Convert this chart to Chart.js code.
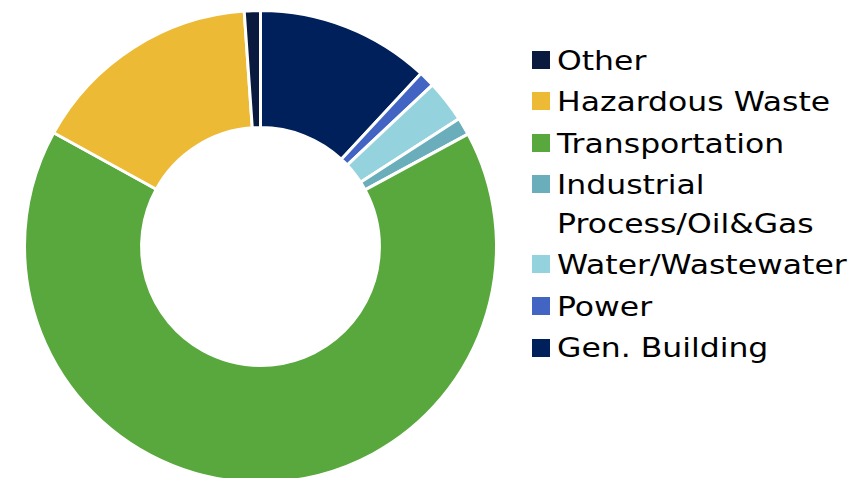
<!DOCTYPE html>
<html>
<head>
<meta charset="utf-8">
<script src="https://cdn.jsdelivr.net/npm/chart.js@4/dist/chart.umd.min.js"></script>
<style>
    html, body {
        margin: 0;
        padding: 0;
        width: 856px;
        height: 478px;
        overflow: hidden;
        background: #FFFFFF;
    }

    #chartBox {
        position: absolute;
        left: 0;
        top: 0;
        width: 521px;
        height: 493px;
    }

    #legend {
        position: absolute;
        left: 532px;
        top: 41.5px;
        font-family: "DejaVu Sans", Verdana, sans-serif;
        font-size: 26px;
        color: #000000;
    }

    .legend-item {
        display: flex;
        align-items: flex-start;
        margin-bottom: 3.3px;
    }

    .legend-box {
        width: 18px;
        height: 18px;
        margin-top: 9.2px;
        margin-right: 6.5px;
        flex: none;
    }

    .legend-text {
        line-height: 38.3px;
        white-space: nowrap;
        transform: scaleX(1.21);
        transform-origin: left center;
    }
</style>
</head>
<body>
<div id="chartBox">
    <canvas id="sectorChart" width="521" height="493"></canvas>
</div>
<div id="legend"></div>

<script>
// Sectors clockwise from 12 o'clock
const sectorLabels = [
    "Gen. Building",
    "Power",
    "Water/Wastewater",
    ["Industrial", "Process/Oil&Gas"],
    "Transportation",
    "Hazardous Waste",
    "Other"
];

const sectorShares = [11.9, 1.1, 2.9, 1.2, 65.9, 15.9, 1.1];

const sectorColors = [
    "#00205B", // Gen. Building — navy
    "#4264C2", // Power — blue
    "#94D3DE", // Water — pale aqua
    "#69AEBA", // Industrial — teal
    "#58A83E", // Transportation — green
    "#EDBA35", // Hazardous Waste — gold
    "#0A1A3F"  // Other — dark navy
];


document.addEventListener("DOMContentLoaded", function () {
    drawSectorChart();
    buildLegend();
});


function drawSectorChart() {
    const canvas = document.getElementById("sectorChart");

    new Chart(canvas, {
        type: "doughnut",

        data: {
            labels: sectorLabels,

            datasets: [
                {
                    data: sectorShares,
                    backgroundColor: sectorColors,
                    borderColor: "#FFFFFF",
                    borderWidth: 3
                }
            ]
        },

        options: {
            responsive: false,
            maintainAspectRatio: false,
            animation: false,
            events: [],
            radius: 236,
            cutout: "50.4%",
            layout: {
                padding: 0
            },

            plugins: {
                legend: {
                    display: false
                },
                tooltip: {
                    enabled: false
                }
            }
        }
    });
}


function buildLegend() {
    const legend = document.getElementById("legend");

    // legend lists the sectors bottom-up
    for (let i = sectorLabels.length - 1; i >= 0; i--) {
        const item = document.createElement("div");
        item.className = "legend-item";

        const box = document.createElement("div");
        box.className = "legend-box";
        box.style.background = sectorColors[i];

        const text = document.createElement("div");
        text.className = "legend-text";

        const lines = Array.isArray(sectorLabels[i])
            ? sectorLabels[i]
            : [sectorLabels[i]];

        lines.forEach(function (line) {
            const row = document.createElement("div");
            row.textContent = line;
            text.appendChild(row);
        });

        item.appendChild(box);
        item.appendChild(text);
        legend.appendChild(item);
    }
}
</script>
</body>
</html>
